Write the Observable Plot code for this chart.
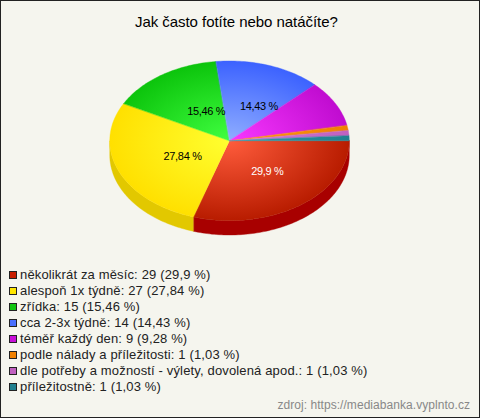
<!DOCTYPE html>
<html><head><meta charset="utf-8">
<script src="https://cdn.jsdelivr.net/npm/d3@7"></script>
<script src="https://cdn.jsdelivr.net/npm/@observablehq/plot@0.6"></script>
<style>
html,body{margin:0;padding:0;background:#f5f5ee}
#page{position:relative;box-sizing:border-box;width:480px;height:418px;background:#f5f5ee;border:1px solid #222;font-family:"Liberation Sans",Arial,sans-serif;overflow:hidden}
#title{position:absolute;left:134px;top:12px;white-space:nowrap;font-size:15px;letter-spacing:-0.05px;line-height:18px;color:#000}
#chart{position:absolute;left:-1px;top:43px}
#chart svg{display:block}
#chart svg text{font-family:"Liberation Sans",Arial,sans-serif;letter-spacing:-0.3px}
#legend{position:absolute;left:8px;top:265.5px;font-size:13px;letter-spacing:0.15px;line-height:16.1px;color:#222}
.row{display:flex;align-items:center;height:16.1px;white-space:nowrap}
.sw{box-sizing:border-box;width:8px;height:8px;border:1px solid #222;margin-right:3px;flex:none}
#source{position:absolute;right:9px;top:397px;font-size:12px;letter-spacing:0.05px;line-height:14px;color:#888}
</style></head><body>
<div id="page"><div id="title"></div><div id="chart"></div><div id="legend"></div><div id="source"></div></div>
<script>
const chartTitle = "Jak často fotíte nebo natáčíte?";
const sourceText = "zdroj: https://mediabanka.vyplnto.cz";
const categories = ["několikrát za měsíc","alespoň 1x týdně","zřídka","cca 2-3x týdně","téměř každý den","podle nálady a příležitosti","dle potřeby a možností - výlety, dovolená apod.","příležitostně"];
const counts = [29,27,15,14,9,1,1,1];
const percents = ["29,9","27,84","15,46","14,43","9,28","1,03","1,03","1,03"];
const swatchColors = ["#c81e00","#ffe600","#10c410","#4a70ff","#c810d8","#f08000","#c060c0","#208090"];
const innerColors = ["#ff5c3c","#ffff30","#40ff40","#90aeff","#f838ff","#ff9a10","#d080d8","#309aa8"];
const outerColors = ["#b81c00","#ffe000","#0cc40c","#3c62ff","#c00cd0","#f08000","#c060c0","#208090"];
const sideColors = ["#a80000","#e2c800","#089008","#2a48c0","#900aa0","#b06000","#904890","#186070"];
const labelColors = ["#fff","#000","#000","#000"];
const labelOffsets = [[2,-2],[8,0],[10,3],[9,3]];

const total = d3.sum(counts);
let acc = 0;
const slices = counts.map((c,i)=>{const a0=acc/total*2*Math.PI; acc+=c; return {i,a0,a1:acc/total*2*Math.PI};});
const depth = 0.18;
function arc(a0,a1){const n=Math.max(2,Math.ceil((a1-a0)/0.02));return d3.range(n+1).map(k=>a0+(a1-a0)*k/n);}

const marks = [];
marks.push((index,scales)=>{
  const defs=d3.create("svg:defs");
  const cx=scales.x(0),cy=scales.y(0),rx=scales.x(1)-cx,ry=cy-scales.y(1);
  slices.forEach(s=>{
    const g=defs.append("radialGradient").attr("id","g"+s.i).attr("gradientUnits","userSpaceOnUse")
      .attr("cx",0).attr("cy",0).attr("r",1)
      .attr("gradientTransform",`translate(${cx},${cy}) scale(${rx},${ry})`);
    g.append("stop").attr("offset",0).attr("stop-color",innerColors[s.i]);
    g.append("stop").attr("offset",1).attr("stop-color",outerColors[s.i]);
  });
  return defs.node();
});
slices.forEach(s=>{
  const a1=Math.min(s.a1,Math.PI);
  if(s.a0<Math.PI){
    marks.push(Plot.area(arc(s.a0,a1),{x1:a=>Math.cos(a),x2:a=>Math.cos(a),y1:a=>-Math.sin(a),y2:a=>-Math.sin(a)-depth,fill:sideColors[s.i],stroke:sideColors[s.i],strokeWidth:0.4}));
  }
});
slices.forEach(s=>{
  marks.push(Plot.area(arc(s.a0,s.a1),{x1:()=>0,y1:()=>0,x2:a=>Math.cos(a),y2:a=>-Math.sin(a),fill:`url(#g${s.i})`,stroke:`url(#g${s.i})`,strokeWidth:0.4}));
});
const labelled = slices.filter(s=>counts[s.i]/total>0.1);
labelled.forEach(s=>{
  const m=(s.a0+s.a1)/2;
  marks.push(Plot.text([s],{x:()=>0.5*Math.cos(m),y:()=>-0.5*Math.sin(m),text:()=>percents[s.i]+" %",fill:labelColors[s.i],fontSize:11,dx:labelOffsets[s.i][0],dy:labelOffsets[s.i][1]}));
});

document.getElementById("chart").appendChild(Plot.plot({
  width:480,height:200,margin:0,
  x:{domain:[-1,1],range:[110,350],axis:null},
  y:{domain:[-1,1],range:[177,17],axis:null},
  style:{background:"transparent",fontFamily:"Liberation Sans, Arial, sans-serif"},
  marks
}));
document.getElementById("title").textContent=chartTitle;
document.getElementById("source").textContent=sourceText;
const lg=document.getElementById("legend");
categories.forEach((c,i)=>{
  const r=document.createElement("div");r.className="row";
  const sw=document.createElement("span");sw.className="sw";sw.style.background=swatchColors[i];
  const t=document.createElement("span");t.textContent=`${c}: ${counts[i]} (${percents[i]} %)`;
  r.append(sw,t);lg.appendChild(r);
});
</script></body></html>
